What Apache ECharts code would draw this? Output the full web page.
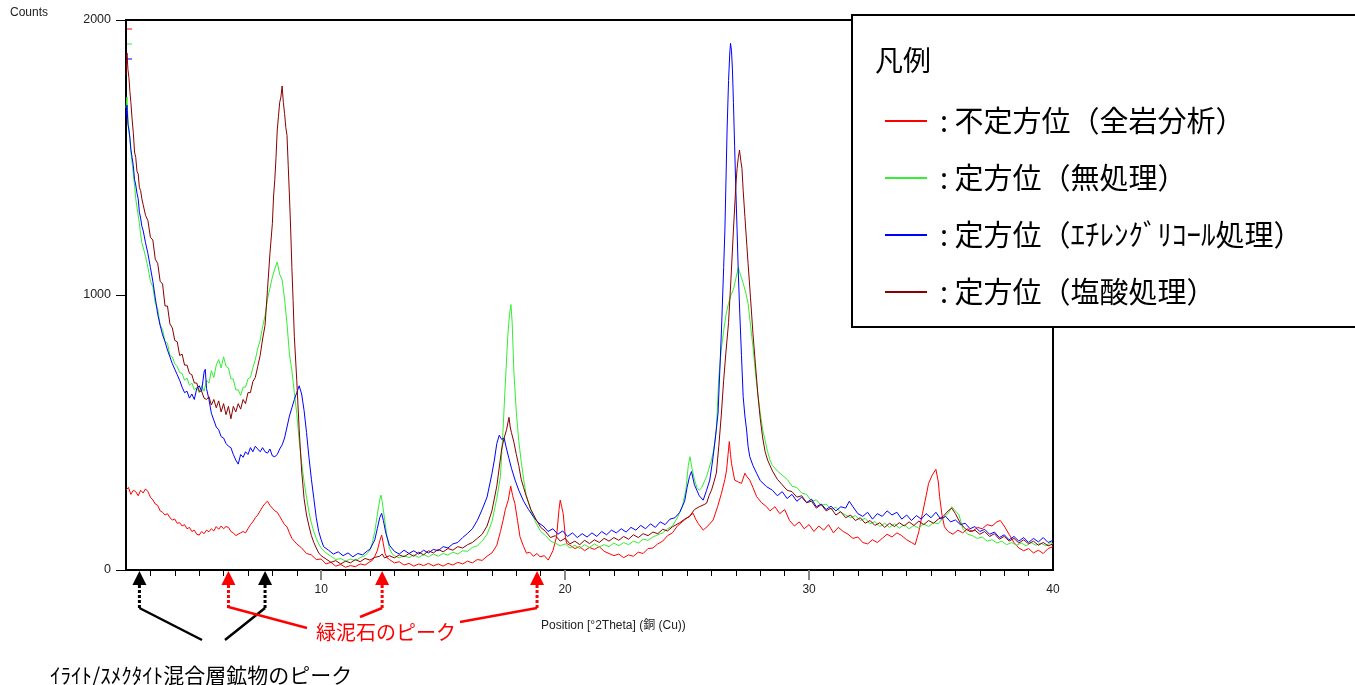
<!DOCTYPE html>
<html><head><meta charset="utf-8">
<script src="https://cdn.jsdelivr.net/npm/echarts@6/dist/echarts.min.js"></script>
<style>html,body{margin:0;padding:0;background:#fff}#c{width:1355px;height:685px}</style>
</head><body><div id="c"></div>
<script>
// ---- data ----
const seriesNames = ['不定方位（全岩分析）', '定方位（無処理）', '定方位（ｴﾁﾚﾝｸﾞﾘｺｰﾙ処理）', '定方位（塩酸処理）'];
const seriesColors = ['#ff0000', '#33ee33', '#0000ff', '#8a0000'];
const minorTicks = [3,4,5,6,7,8,9,11,12,13,14,15,16,17,18,19,21,22,23,24,25,26,27,28,29,31,32,33,34,35,36,37,38,39];
const majorTicks = [10,20,30];
const xLabels = [10,20,30,40];
const illiteSmectitePeaks = [2.55, 7.7];
const chloritePeaks = [6.2, 12.5, 18.85];

const wholeRock = [[2.0,291],[2.1,300],[2.2,275],[2.3,290],[2.4,285],[2.5,270],[2.6,290],[2.7,280],[2.8,295],[2.9,285],[3.0,265],[3.1,255],[3.2,240],[3.3,235],[3.4,215],[3.5,210],[3.6,200],[3.7,205],[3.8,190],[3.9,182],[4.0,185],[4.1,170],[4.2,172],[4.3,160],[4.4,165],[4.5,150],[4.6,155],[4.7,140],[4.8,145],[4.9,130],[5.0,127],[5.1,140],[5.2,132],[5.3,145],[5.4,139],[5.5,150],[5.6,142],[5.7,158],[5.8,148],[5.9,160],[6.0,150],[6.1,158],[6.2,155],[6.3,140],[6.4,135],[6.5,125],[6.6,130],[6.7,135],[6.8,140],[6.9,135],[7.0,150],[7.1,165],[7.2,175],[7.3,190],[7.4,200],[7.5,215],[7.6,230],[7.7,242],[7.8,250],[7.9,235],[8.0,225],[8.1,215],[8.2,210],[8.3,195],[8.4,180],[8.5,165],[8.6,157],[8.7,135],[8.8,115],[8.9,105],[9.0,95],[9.2,80],[9.4,60],[9.6,55],[9.8,38],[10.0,40],[10.2,22],[10.4,28],[10.6,14],[10.8,20],[11.0,10],[11.2,16],[11.4,12],[11.6,22],[11.8,18],[12.0,30],[12.1,35],[12.2,50],[12.3,70],[12.4,105],[12.48,127],[12.55,95],[12.62,60],[12.7,45],[12.8,38],[13.0,26],[13.2,30],[13.4,18],[13.6,24],[13.8,14],[14.0,22],[14.2,16],[14.4,24],[14.6,15],[14.8,22],[15.0,14],[15.2,24],[15.4,18],[15.6,28],[15.8,22],[16.0,32],[16.2,26],[16.4,38],[16.6,35],[16.8,50],[17.0,62],[17.2,90],[17.35,140],[17.46,182],[17.55,220],[17.67,254],[17.77,305],[17.85,270],[17.94,242],[18.05,180],[18.15,121],[18.3,85],[18.42,61],[18.55,65],[18.7,50],[18.85,60],[18.97,48],[19.15,52],[19.31,36],[19.5,70],[19.65,121],[19.75,220],[19.8,254],[19.86,230],[19.92,206],[20.0,130],[20.06,97],[20.2,90],[20.4,78],[20.6,85],[20.8,70],[21.0,82],[21.2,75],[21.4,85],[21.6,68],[21.8,60],[22.0,52],[22.2,58],[22.4,45],[22.6,55],[22.8,50],[23.0,65],[23.2,60],[23.4,78],[23.6,80],[23.8,95],[24.0,105],[24.2,125],[24.4,135],[24.6,160],[24.8,175],[25.0,190],[25.25,206],[25.35,185],[25.45,170],[25.66,145],[25.85,160],[26.07,182],[26.25,230],[26.41,279],[26.55,330],[26.62,364],[26.68,420],[26.73,467],[26.78,420],[26.82,388],[26.95,327],[27.1,320],[27.23,315],[27.37,352],[27.45,340],[27.57,327],[27.7,300],[27.85,267],[28.05,245],[28.26,230],[28.4,215],[28.6,230],[28.8,205],[29.0,220],[29.2,180],[29.4,160],[29.6,175],[29.8,150],[30.0,165],[30.2,140],[30.4,160],[30.6,145],[30.8,165],[31.0,135],[31.2,155],[31.4,140],[31.6,130],[31.8,115],[32.0,120],[32.2,100],[32.4,95],[32.6,110],[32.8,100],[33.0,115],[33.2,130],[33.4,120],[33.6,135],[33.8,125],[34.0,110],[34.2,100],[34.35,92],[34.5,140],[34.65,206],[34.8,270],[34.9,315],[35.05,345],[35.2,366],[35.3,320],[35.35,267],[35.45,200],[35.55,157],[35.7,140],[35.9,130],[36.1,145],[36.3,135],[36.5,150],[36.7,140],[36.9,155],[37.1,150],[37.3,165],[37.5,160],[37.7,175],[37.84,180],[38.0,160],[38.2,130],[38.4,100],[38.6,80],[38.8,70],[39.0,78],[39.2,62],[39.4,72],[39.6,60],[39.8,78],[40.0,85]];

const untreated = [[2.0,1680],[2.04,1720],[2.08,1640],[2.12,1600],[2.16,1570],[2.2,1520],[2.25,1480],[2.3,1440],[2.35,1400],[2.4,1350],[2.45,1320],[2.5,1290],[2.55,1260],[2.6,1220],[2.65,1190],[2.7,1175],[2.8,1140],[2.9,1100],[3.0,1050],[3.1,1030],[3.2,970],[3.3,950],[3.4,890],[3.5,875],[3.6,830],[3.7,825],[3.8,780],[3.9,775],[4.0,750],[4.1,740],[4.2,718],[4.3,715],[4.4,690],[4.5,698],[4.6,672],[4.7,680],[4.8,655],[4.9,665],[5.0,645],[5.1,670],[5.2,650],[5.3,690],[5.4,680],[5.5,725],[5.6,700],[5.7,745],[5.8,765],[5.9,735],[6.0,775],[6.1,740],[6.2,735],[6.3,695],[6.4,695],[6.5,655],[6.6,655],[6.7,635],[6.8,665],[6.9,665],[7.0,695],[7.1,700],[7.2,735],[7.3,765],[7.4,805],[7.5,835],[7.6,885],[7.7,925],[7.8,985],[7.9,1025],[8.0,1065],[8.1,1095],[8.2,1120],[8.3,1075],[8.4,1055],[8.5,985],[8.6,895],[8.7,785],[8.8,725],[8.9,645],[9.0,570],[9.1,470],[9.2,390],[9.3,320],[9.4,265],[9.5,210],[9.6,170],[9.7,140],[9.8,115],[9.9,95],[10.0,80],[10.2,62],[10.4,50],[10.6,38],[10.8,42],[11.0,32],[11.2,40],[11.4,34],[11.6,45],[11.8,52],[12.0,72],[12.1,100],[12.2,140],[12.3,200],[12.4,255],[12.45,272],[12.5,250],[12.6,185],[12.7,120],[12.8,78],[12.9,60],[13.0,52],[13.2,44],[13.4,52],[13.6,45],[13.8,55],[14.0,46],[14.2,56],[14.4,48],[14.6,58],[14.8,50],[15.0,60],[15.2,54],[15.4,65],[15.6,58],[15.8,70],[16.0,68],[16.2,82],[16.4,88],[16.6,105],[16.8,130],[17.0,175],[17.2,260],[17.35,340],[17.45,500],[17.55,680],[17.65,850],[17.72,930],[17.78,965],[17.83,900],[17.9,720],[18.0,575],[18.1,470],[18.2,395],[18.3,330],[18.4,275],[18.6,215],[18.8,172],[19.0,140],[19.2,125],[19.4,105],[19.6,98],[19.8,88],[20.0,95],[20.2,80],[20.4,90],[20.6,78],[20.8,92],[21.0,82],[21.2,95],[21.4,84],[21.6,92],[21.8,85],[22.0,98],[22.2,88],[22.4,100],[22.6,92],[22.8,105],[23.0,98],[23.2,112],[23.4,108],[23.6,120],[23.8,128],[24.0,135],[24.2,150],[24.4,160],[24.6,190],[24.8,230],[24.95,290],[25.05,380],[25.12,412],[25.2,370],[25.3,330],[25.4,300],[25.5,290],[25.6,300],[25.7,320],[25.8,340],[25.9,370],[26.0,400],[26.1,440],[26.2,510],[26.3,700],[26.4,800],[26.5,870],[26.6,930],[26.7,970],[26.8,1000],[26.9,1020],[27.0,1060],[27.1,1100],[27.15,1085],[27.2,1070],[27.3,1043],[27.4,1010],[27.5,970],[27.6,890],[27.7,812],[27.8,720],[27.9,640],[28.0,570],[28.1,510],[28.2,470],[28.3,430],[28.4,400],[28.5,380],[28.7,360],[28.9,345],[29.1,330],[29.3,305],[29.5,300],[29.7,280],[29.9,275],[30.1,250],[30.3,255],[30.5,235],[30.7,240],[30.9,220],[31.1,228],[31.3,210],[31.5,200],[31.7,190],[31.9,198],[32.1,180],[32.3,188],[32.5,168],[32.7,176],[32.9,158],[33.1,170],[33.3,155],[33.5,168],[33.7,152],[33.9,165],[34.1,150],[34.3,162],[34.5,152],[34.7,168],[34.9,158],[35.1,172],[35.3,168],[35.5,190],[35.7,205],[35.85,230],[36.0,215],[36.15,200],[36.3,150],[36.5,130],[36.7,125],[36.9,115],[37.1,120],[37.3,105],[37.5,110],[37.7,98],[37.9,105],[38.1,92],[38.3,100],[38.5,90],[38.7,98],[38.9,88],[39.1,100],[39.3,90],[39.5,98],[39.7,88],[39.9,100],[40.0,95]];

const glycol = [[2.0,1650],[2.04,1690],[2.08,1620],[2.12,1600],[2.16,1570],[2.2,1530],[2.25,1500],[2.3,1470],[2.35,1420],[2.4,1400],[2.45,1370],[2.5,1350],[2.55,1300],[2.6,1280],[2.65,1250],[2.7,1236],[2.8,1190],[2.9,1150],[3.0,1100],[3.1,1050],[3.2,990],[3.3,930],[3.4,890],[3.5,855],[3.6,830],[3.7,800],[3.8,775],[3.9,750],[4.0,730],[4.1,710],[4.2,690],[4.3,665],[4.4,645],[4.5,650],[4.6,625],[4.7,640],[4.8,620],[4.9,660],[5.0,670],[5.1,650],[5.2,720],[5.25,730],[5.3,660],[5.4,620],[5.5,570],[5.6,545],[5.7,520],[5.8,510],[5.9,485],[6.0,480],[6.1,460],[6.2,450],[6.3,445],[6.4,420],[6.5,400],[6.6,385],[6.7,420],[6.8,410],[6.9,430],[7.0,420],[7.1,445],[7.2,430],[7.3,450],[7.4,440],[7.5,430],[7.6,445],[7.7,430],[7.8,425],[7.9,440],[8.0,415],[8.1,412],[8.2,420],[8.3,440],[8.4,455],[8.5,480],[8.6,520],[8.7,560],[8.8,590],[8.9,620],[9.0,645],[9.1,670],[9.2,640],[9.3,580],[9.4,500],[9.5,410],[9.6,330],[9.7,260],[9.8,190],[9.9,140],[10.0,110],[10.1,85],[10.3,72],[10.5,58],[10.7,66],[10.9,52],[11.1,62],[11.3,48],[11.5,60],[11.7,55],[11.9,70],[12.0,75],[12.2,110],[12.3,150],[12.4,190],[12.48,206],[12.55,180],[12.65,135],[12.8,90],[13.0,68],[13.2,58],[13.4,72],[13.6,60],[13.8,70],[14.0,58],[14.2,72],[14.4,62],[14.6,75],[14.8,70],[15.0,85],[15.2,80],[15.4,95],[15.6,100],[15.8,118],[16.0,133],[16.2,150],[16.4,180],[16.6,220],[16.8,265],[17.0,350],[17.1,400],[17.2,460],[17.3,490],[17.4,475],[17.5,480],[17.6,440],[17.7,405],[17.8,370],[17.95,327],[18.1,290],[18.3,250],[18.5,220],[18.7,194],[18.9,172],[19.1,160],[19.3,140],[19.5,150],[19.7,130],[19.9,142],[20.1,122],[20.3,135],[20.5,118],[20.7,132],[20.9,120],[21.1,135],[21.3,122],[21.5,140],[21.7,128],[21.9,145],[22.1,135],[22.3,150],[22.5,138],[22.7,155],[22.9,145],[23.1,162],[23.3,150],[23.5,168],[23.7,155],[23.9,175],[24.1,165],[24.3,185],[24.5,190],[24.7,210],[24.9,250],[25.0,300],[25.1,340],[25.18,358],[25.3,310],[25.4,290],[25.5,270],[25.66,254],[25.8,290],[25.93,327],[26.05,400],[26.15,473],[26.27,571],[26.41,873],[26.5,1100],[26.55,1236],[26.64,1600],[26.7,1780],[26.75,1880],[26.78,1915],[26.82,1890],[26.86,1818],[26.9,1700],[26.95,1539],[27.0,1380],[27.05,1236],[27.1,1080],[27.16,934],[27.23,780],[27.3,630],[27.37,560],[27.44,509],[27.5,450],[27.57,412],[27.7,380],[27.85,352],[28.0,325],[28.26,303],[28.5,290],[28.7,270],[28.9,285],[29.1,260],[29.3,275],[29.5,250],[29.7,265],[29.9,245],[30.1,258],[30.3,230],[30.5,240],[30.7,220],[30.9,232],[31.1,215],[31.3,230],[31.5,225],[31.65,250],[31.8,230],[32.0,205],[32.2,195],[32.4,210],[32.6,185],[32.8,205],[33.0,195],[33.2,215],[33.4,200],[33.6,210],[33.8,185],[34.0,200],[34.2,180],[34.4,198],[34.6,185],[34.8,205],[35.0,190],[35.2,210],[35.4,185],[35.6,195],[35.8,175],[36.0,182],[36.2,165],[36.4,170],[36.6,150],[36.8,158],[37.0,140],[37.2,148],[37.4,130],[37.6,138],[37.8,118],[38.0,128],[38.2,110],[38.4,122],[38.6,105],[38.8,118],[39.0,100],[39.2,115],[39.4,102],[39.6,118],[39.8,100],[40.0,108]];

const hclTreated = [[2.0,1800],[2.04,1880],[2.08,1820],[2.12,1790],[2.16,1740],[2.2,1700],[2.25,1640],[2.3,1590],[2.35,1520],[2.4,1500],[2.45,1450],[2.5,1440],[2.55,1390],[2.6,1380],[2.65,1350],[2.7,1330],[2.8,1290],[2.9,1270],[3.0,1210],[3.1,1200],[3.2,1130],[3.3,1115],[3.4,1050],[3.5,1040],[3.6,960],[3.7,960],[3.8,895],[3.9,880],[4.0,835],[4.1,830],[4.2,780],[4.3,785],[4.4,745],[4.5,745],[4.6,715],[4.7,710],[4.8,680],[4.9,680],[5.0,650],[5.1,650],[5.2,625],[5.3,620],[5.4,630],[5.5,600],[5.6,620],[5.7,590],[5.8,615],[5.9,575],[6.0,605],[6.1,565],[6.2,595],[6.3,550],[6.4,595],[6.5,575],[6.6,605],[6.7,585],[6.8,620],[6.9,605],[7.0,645],[7.1,645],[7.2,685],[7.3,700],[7.4,740],[7.5,780],[7.6,840],[7.7,890],[7.8,1020],[7.9,1150],[8.0,1260],[8.05,1360],[8.1,1420],[8.15,1500],[8.2,1600],[8.25,1650],[8.3,1700],[8.35,1720],[8.4,1760],[8.45,1700],[8.5,1660],[8.55,1610],[8.6,1580],[8.65,1470],[8.7,1360],[8.75,1240],[8.8,1100],[8.85,980],[8.9,850],[9.0,690],[9.1,510],[9.2,360],[9.3,260],[9.4,200],[9.5,160],[9.6,125],[9.7,100],[9.8,80],[9.9,62],[10.0,52],[10.2,40],[10.4,28],[10.6,34],[10.8,22],[11.0,32],[11.2,26],[11.4,38],[11.6,30],[11.8,42],[12.0,36],[12.2,46],[12.4,50],[12.5,58],[12.6,44],[12.8,52],[13.0,44],[13.2,55],[13.4,48],[13.6,60],[13.8,50],[14.0,65],[14.2,55],[14.4,70],[14.6,62],[14.8,75],[15.0,66],[15.2,78],[15.4,72],[15.6,85],[15.8,80],[16.0,92],[16.2,100],[16.4,115],[16.6,130],[16.8,160],[17.0,215],[17.2,305],[17.4,440],[17.5,480],[17.6,510],[17.7,555],[17.75,520],[17.8,500],[17.9,465],[18.0,420],[18.1,380],[18.2,330],[18.3,300],[18.4,270],[18.5,245],[18.6,220],[18.8,185],[19.0,155],[19.2,140],[19.4,118],[19.6,125],[19.8,105],[20.0,115],[20.2,95],[20.4,105],[20.6,92],[20.8,108],[21.0,96],[21.2,110],[21.4,100],[21.6,115],[21.8,105],[22.0,118],[22.2,108],[22.4,122],[22.6,112],[22.8,128],[23.0,118],[23.2,132],[23.4,125],[23.6,138],[23.8,132],[24.0,148],[24.2,142],[24.4,157],[24.7,172],[24.9,185],[25.1,194],[25.3,220],[25.5,230],[25.7,238],[25.8,243],[25.9,270],[26.0,290],[26.1,320],[26.2,352],[26.3,450],[26.4,560],[26.5,690],[26.6,800],[26.7,900],[26.8,1060],[26.9,1236],[27.0,1400],[27.05,1460],[27.1,1500],[27.15,1527],[27.2,1490],[27.25,1460],[27.3,1380],[27.37,1285],[27.45,1180],[27.5,1115],[27.6,990],[27.7,860],[27.8,750],[27.9,640],[28.0,550],[28.1,480],[28.2,430],[28.3,400],[28.5,360],[28.7,330],[28.9,310],[29.1,290],[29.3,285],[29.5,265],[29.7,270],[29.9,245],[30.1,250],[30.3,225],[30.5,238],[30.7,215],[30.9,225],[31.1,200],[31.3,212],[31.5,190],[31.7,200],[31.9,180],[32.1,190],[32.3,170],[32.5,180],[32.7,162],[32.9,172],[33.1,155],[33.3,170],[33.5,158],[33.7,172],[33.9,160],[34.1,175],[34.3,162],[34.5,178],[34.7,165],[34.9,180],[35.1,170],[35.3,185],[35.5,195],[35.7,215],[35.85,225],[36.0,205],[36.2,170],[36.4,150],[36.6,140],[36.8,145],[37.0,130],[37.2,140],[37.4,122],[37.6,132],[37.8,112],[38.0,122],[38.2,105],[38.4,115],[38.6,98],[38.8,110],[39.0,95],[39.2,105],[39.4,90],[39.6,100],[39.8,88],[40.0,95]];

const seriesData = [wholeRock, untreated, glycol, hclTreated];

// ---- chart ----
const chart = echarts.init(document.getElementById('c'), null, {renderer: 'canvas'});
const LAT = 'Liberation Sans, Arial, Noto Sans CJK JP, sans-serif';
const JP = 'Noto Sans CJK JP, sans-serif';

chart.setOption({
  animation: false,
  backgroundColor: '#fff',
  grid: {left: 126, top: 20, right: 302, bottom: 115, show: true, borderColor: '#000', borderWidth: 2},
  xAxis: [{
    type: 'value', min: 2, max: 40, position: 'bottom',
    axisLine: {show: true, lineStyle: {color: '#000', width: 2}},
    axisTick: {show: true, customValues: minorTicks, length: 6, lineStyle: {color: '#000', width: 1}},
    axisLabel: {show: false},
    splitLine: {show: false}
  }, {
    type: 'value', min: 2, max: 40, position: 'bottom',
    axisLine: {show: false},
    axisTick: {show: true, customValues: majorTicks, length: 10, lineStyle: {color: '#888', width: 2}},
    axisLabel: {show: true, customValues: xLabels, margin: 14, fontSize: 12, color: '#222', fontFamily: LAT},
    splitLine: {show: false}
  }],
  yAxis: {
    type: 'value', min: 0, max: 2000, interval: 1000,
    axisLine: {show: true, lineStyle: {color: '#000', width: 2}},
    axisTick: {show: true, length: 10, lineStyle: {color: '#000', width: 1}},
    axisLabel: {margin: 15, fontSize: 12.5, color: '#222', fontFamily: LAT, formatter: v => String(v)},
    splitLine: {show: false}
  },
  legend: {
    data: seriesNames, orient: 'vertical', left: 880, top: 101,
    itemWidth: 42, itemHeight: 2, icon: 'rect', itemGap: 27,
    formatter: ': {name}',
    textStyle: {fontSize: 29, lineHeight: 30, fontFamily: JP, color: '#000', padding: [0, 0, 0, 8]},
    z: 20
  },
  series: seriesData.map((d, i) => ({
    type: 'line', name: seriesNames[i], data: d, showSymbol: false,
    color: seriesColors[i], lineStyle: {width: 1, color: seriesColors[i]},
    xAxisIndex: 0, yAxisIndex: 0, z: 2 + i * 0.1, silent: true
  }))
});

const px = v => chart.convertToPixel({xAxisIndex: 0}, v);
const graphics = [];
// legend box
graphics.push({type: 'rect', z: 10, shape: {x: 852, y: 15, width: 520, height: 312}, style: {fill: '#fff', stroke: '#000', lineWidth: 2}});
graphics.push({type: 'text', z: 11, x: 875, y: 60, style: {text: '凡例', fontSize: 28, fontFamily: JP, fill: '#000', verticalAlign: 'middle'}});
// Counts and axis name
graphics.push({type: 'text', z: 11, x: 10, y: 13, style: {text: 'Counts', fontSize: 12, fontFamily: LAT, fill: '#222', verticalAlign: 'middle'}});
graphics.push({type: 'text', z: 11, x: 541, y: 626, style: {text: 'Position [°2Theta] (銅 (Cu))', fontSize: 12, fontFamily: LAT, fill: '#222', verticalAlign: 'middle'}});
// small offset markers at top-left of plot
[[29, '#ff0000'], [44, '#33ee33'], [59, '#0000ff']].forEach(([y, c]) => {
  graphics.push({type: 'line', z: 11, shape: {x1: 127, y1: y, x2: 132, y2: y}, style: {stroke: c, lineWidth: 1}});
});

function arrow(v, color) {
  const x = px(v);
  graphics.push({type: 'polygon', z: 11, shape: {points: [[x, 571], [x - 7, 585], [x + 7, 585]]}, style: {fill: color}});
  graphics.push({type: 'line', z: 11, shape: {x1: x, y1: 585, x2: x, y2: 608}, style: {stroke: color, lineWidth: 3, lineDash: [3, 2]}});
  return x;
}
const b = illiteSmectitePeaks.map(v => arrow(v, '#000'));
const r = chloritePeaks.map(v => arrow(v, '#ff0000'));
graphics.push({type: 'line', z: 11, shape: {x1: b[0], y1: 608, x2: 202, y2: 640}, style: {stroke: '#000', lineWidth: 2.5}});
graphics.push({type: 'line', z: 11, shape: {x1: 225, y1: 640, x2: b[1], y2: 608}, style: {stroke: '#000', lineWidth: 2.5}});
graphics.push({type: 'line', z: 11, shape: {x1: r[0], y1: 607, x2: 307, y2: 628}, style: {stroke: '#ff0000', lineWidth: 2.5}});
graphics.push({type: 'line', z: 11, shape: {x1: r[1], y1: 608, x2: 360, y2: 617}, style: {stroke: '#ff0000', lineWidth: 2.5}});
graphics.push({type: 'line', z: 11, shape: {x1: r[2], y1: 608, x2: 460, y2: 622}, style: {stroke: '#ff0000', lineWidth: 2.5}});
graphics.push({type: 'text', z: 11, x: 316, y: 632, style: {text: '緑泥石のピーク', fontSize: 20, fontFamily: JP, fill: '#ff0000', verticalAlign: 'middle'}});
graphics.push({type: 'text', z: 11, x: 50, y: 675, style: {text: 'ｲﾗｲﾄ/ｽﾒｸﾀｲﾄ混合層鉱物のピーク', fontSize: 21, fontFamily: JP, fill: '#000', verticalAlign: 'middle'}});

chart.setOption({graphic: graphics});
</script>
</body></html>
